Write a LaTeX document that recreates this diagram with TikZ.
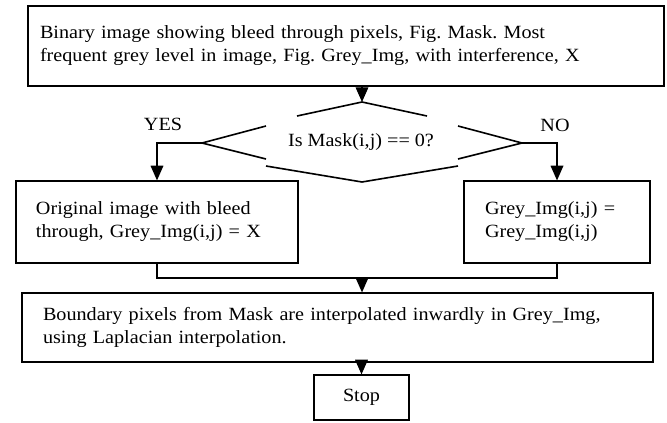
\documentclass[tikz,border=0pt]{standalone}
\usepackage{fontspec}
\setmainfont[FakeStretch=1.08]{Liberation Serif}
\usetikzlibrary{arrows.meta}
\begin{document}
\frenchspacing
\begin{tikzpicture}[x=0.75pt,y=-0.75pt,
  every node/.style={font=\fontsize{14}{17.25}\selectfont},
  box/.style={draw, line width=0.9pt, align=left, inner ysep=0pt},
  arr/.style={line width=0.9pt, -{Triangle[width=9.5pt,length=11pt]}},
  seg/.style={line width=1.2pt}]
\useasboundingbox (0,0) rectangle (667,422);
% boxes
\node[box, line width=1.4pt, inner xsep=9pt, text width=459pt, minimum height=60pt] (top) at (346,46)
  {Binary image showing bleed through pixels, Fig. Mask. Most\\frequent grey level in image, Fig. Grey\_Img, with interference, X};
\node[box, inner xsep=15pt, text width=181.5pt, minimum height=61.5pt] (left) at (157,222)
  {Original image with bleed\\through, Grey\_Img(i,j) = X};
\node[box, inner xsep=15.75pt, text width=108pt, minimum height=61.5pt] (right) at (557,222)
  {Grey\_Img(i,j) =\\Grey\_Img(i,j)};
\node[box, inner xsep=15.75pt, text width=441.75pt, minimum height=51.75pt] (bound) at (337.5,327.5)
  {Boundary pixels from Mask are interpolated inwardly in Grey\_Img,\\using Laplacian interpolation.};
\node[box, align=center, minimum width=71.25pt, minimum height=33.75pt] (stop) at (361.5,397.5) {Stop};
% decision (broken diamond)
\coordinate (dT) at (362,102);
\coordinate (dL) at (202,143);
\coordinate (dR) at (522,143);
\coordinate (dB) at (362,182);
\coordinate (tl) at (297,116);
\coordinate (tr) at (427,116);
\coordinate (lu) at (266,126);
\coordinate (ll) at (266,159);
\coordinate (ru) at (458,126);
\coordinate (rl) at (458,159);
\coordinate (bl) at (266,166);
\coordinate (br) at (458,166);
\draw[seg] (tl) -- (dT) -- (tr);
\draw[seg] (lu) -- (dL) -- (ll);
\draw[seg] (ru) -- (dR) -- (rl);
\draw[seg] (bl) -- (dB) -- (br);
\node (q) at (361,142) {Is Mask(i,j) == 0?};
\node (yes) at (163,124) {YES};
\node (no) at (555,125) {NO};
% connectors
\draw[arr] (top.south -| dT) -- (dT);
\draw[arr] (dL) -| (left.north);
\draw[arr] (dR) -| (right.north);
\coordinate (merge) at (362,278);
\draw[line width=0.9pt] (left.south) |- (right.south |- merge) -- (right.south);
\draw[arr] (merge) -- (merge |- bound.north);
\draw[arr] (bound.south -| stop.north) -- (stop.north);
\end{tikzpicture}
\end{document}
